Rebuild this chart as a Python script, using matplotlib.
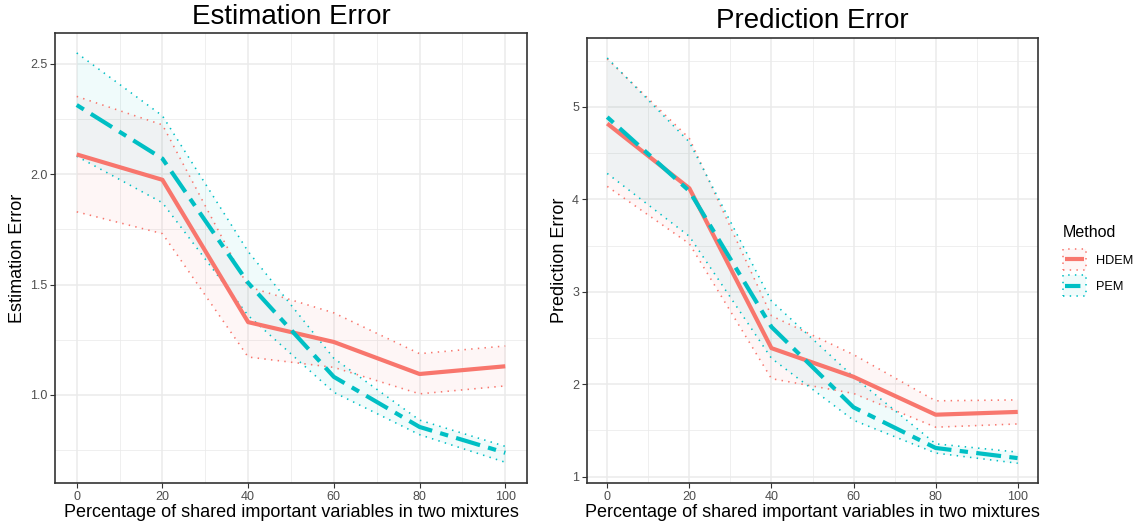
#!/usr/bin/python3
# Estimation / prediction error vs share of important variables (two panels)

import numpy as np
import matplotlib
matplotlib.use('Agg')
import matplotlib.pyplot as plt
import matplotlib.ticker as ticker
from matplotlib.patches import Rectangle
from matplotlib.lines import Line2D
from matplotlib.colors import to_rgba

plt.rcParams['font.family'] = ['Liberation Sans', 'DejaVu Sans']

# ---- data ----
pct = [0, 20, 40, 60, 80, 100]
methods = ['HDEM', 'PEM']

est_hdem = [2.09, 1.975, 1.33, 1.24, 1.095, 1.13]
est_hdem_hi = [2.353, 2.224, 1.49, 1.372, 1.187, 1.222]
est_hdem_lo = [1.83, 1.731, 1.172, 1.125, 1.005, 1.041]
est_pem = [2.314, 2.071, 1.508, 1.082, 0.855, 0.738]
est_pem_hi = [2.55, 2.265, 1.65, 1.166, 0.886, 0.767]
est_pem_lo = [2.082, 1.871, 1.36, 1.012, 0.82, 0.695]

pred_hdem = [4.82, 4.12, 2.39, 2.08, 1.67, 1.70]
pred_hdem_hi = [5.52, 4.66, 2.74, 2.32, 1.82, 1.83]
pred_hdem_lo = [4.14, 3.52, 2.06, 1.90, 1.535, 1.57]
pred_pem = [4.89, 4.09, 2.62, 1.75, 1.31, 1.20]
pred_pem_hi = [5.53, 4.62, 2.90, 2.08, 1.355, 1.265]
pred_pem_lo = [4.28, 3.60, 2.28, 1.61, 1.255, 1.145]

cols = {'HDEM': '#F8766D', 'PEM': '#00BFC4'}
styles = {'HDEM': '-', 'PEM': (0, (2, 2, 6, 2))}
fill_a = 0.06
dot_lw = 1.15
dot = (0, (0.9, 3.3))

W, H = 1143, 527
fig = plt.figure(figsize=(W / 100, H / 100), dpi=100)
ax1 = fig.add_axes([55.3 / W, 44 / H, 471.4 / W, 449.7 / H])
ax2 = fig.add_axes([586.7 / W, 44 / H, 451.6 / W, 445.3 / H])


def draw(ax, series, title, ylabel, ymajor, yminor, ylim):
    for m, (mean, hi, lo) in series.items():
        c = cols[m]
        ax.fill_between(pct, lo, hi, color=c, alpha=fill_a, lw=0, zorder=1)
        ax.plot(pct, hi, color=c, lw=dot_lw, ls=dot, zorder=2)
        ax.plot(pct, lo, color=c, lw=dot_lw, ls=dot, zorder=2)
    for m, (mean, hi, lo) in series.items():
        ax.plot(pct, mean, color=cols[m], lw=3.0, ls=styles[m], zorder=3,
                solid_capstyle='butt', dash_capstyle='butt')

    ax.set_xlim(-5, 105)
    ax.set_ylim(*ylim)
    ax.xaxis.set_major_locator(ticker.MultipleLocator(20))
    ax.xaxis.set_minor_locator(ticker.MultipleLocator(10))
    ax.yaxis.set_major_locator(ticker.FixedLocator(ymajor))
    ax.yaxis.set_minor_locator(ticker.FixedLocator(yminor))
    ax.grid(True, which='major', color='#EBEBEB', lw=1.1, zorder=0)
    ax.grid(True, which='minor', color='#EBEBEB', lw=0.55, zorder=0)
    ax.set_axisbelow(True)
    ax.tick_params(which='major', length=3.5, width=0.8, color='#333333',
                   labelcolor='#4D4D4D', labelsize=9, pad=2)
    ax.tick_params(which='minor', length=0)
    for s in ax.spines.values():
        s.set_color('#333333')
        s.set_linewidth(1.2)
    ax.set_title(title, fontsize=20, pad=7)
    ax.set_xlabel('Percentage of shared important variables in two mixtures',
                  fontsize=13, labelpad=1)
    ax.set_ylabel(ylabel, fontsize=13, labelpad=3)


draw(ax1,
     {'HDEM': (est_hdem, est_hdem_hi, est_hdem_lo),
      'PEM': (est_pem, est_pem_hi, est_pem_lo)},
     'Estimation Error', 'Estimation Error',
     [1.0, 1.5, 2.0, 2.5], [0.75, 1.25, 1.75, 2.25],
     (0.601, 2.639))
ax1.yaxis.set_major_formatter(ticker.FormatStrFormatter('%.1f'))

draw(ax2,
     {'HDEM': (pred_hdem, pred_hdem_hi, pred_hdem_lo),
      'PEM': (pred_pem, pred_pem_hi, pred_pem_lo)},
     'Prediction Error', 'Prediction Error',
     [1, 2, 3, 4, 5], [1.5, 2.5, 3.5, 4.5, 5.5],
     (0.931, 5.749))


# legend key: light box with dotted border and the mean line across it
class KeyHandler:
    def legend_artist(self, legend, orig, fontsize, handlebox):
        c = orig.get_color()
        x0, y0 = handlebox.xdescent, handlebox.ydescent
        w, h = handlebox.width, handlebox.height
        box = Rectangle((-x0, -y0 - 0.25 * h), w, 1.5 * h,
                        facecolor=to_rgba(c, fill_a), edgecolor=c,
                        lw=dot_lw, ls=dot, transform=handlebox.get_transform())
        ln = Line2D([-x0 + 0.1 * w, -x0 + 0.9 * w], [-y0 + h / 2] * 2,
                    color=c, lw=3.0, ls=orig.get_linestyle(),
                    solid_capstyle='butt', dash_capstyle='butt',
                    transform=handlebox.get_transform())
        handlebox.add_artist(box)
        handlebox.add_artist(ln)
        return box


handles = [Line2D([], [], color=cols[m], ls=styles[m]) for m in methods]
leg = fig.legend(handles, methods, title='Method',
                 handler_map={Line2D: KeyHandler()},
                 loc='center left', bbox_to_anchor=(1063 / W, 1 - 259 / H),
                 frameon=False, fontsize=9.2, title_fontsize=11.5,
                 handlelength=1.8, handleheight=1.3, labelspacing=0.95,
                 handletextpad=0.8, borderpad=0, borderaxespad=0,
                 alignment='left')

fig.savefig('out.png', dpi=100)
